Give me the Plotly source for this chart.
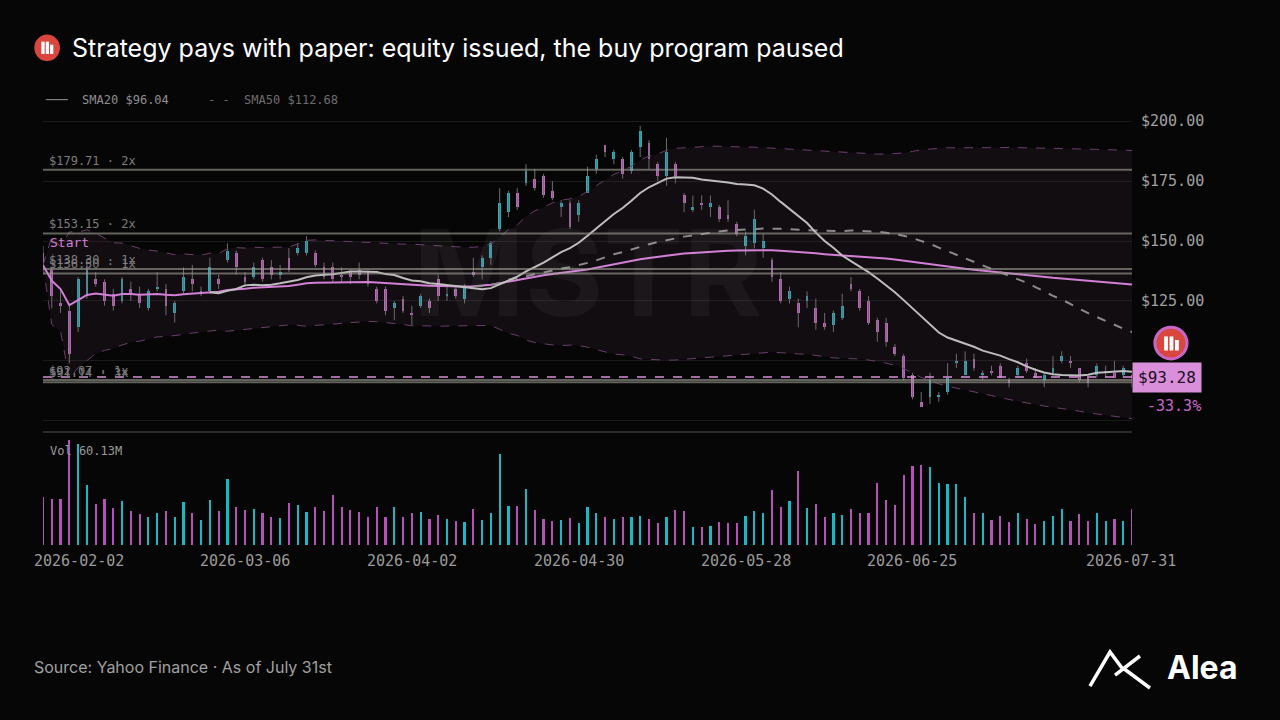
import plotly.graph_objects as go
import numpy as np
import pandas as pd


class PricePlot:
    """Manages the candlestick chart with levels, averages and volume."""

    def __init__(self, ohlc, volume, dates):
        """
        Initialize the PricePlot class.

        Args:
            ohlc: list of (open, high, low, close) rows, one per trading day.
            volume: traded volume per day, in millions.
            dates: trading dates as strings.
        """
        self.df = pd.DataFrame(ohlc, columns=["open", "high", "low", "close"])
        self.df["volume"] = volume
        self.df["date"] = dates
        self.fig = go.Figure()

    def build(self, levels, last_price, change, title, source):
        """Build the full figure."""
        df = self.df
        idx = np.arange(len(df))
        up = df["close"] >= df["open"]
        teal, pink, grey = "#19b8c6", "#c866c8", "#6e6e6e"
        mono = "DejaVu Sans Mono"

        # Averages and bands
        sma20 = df["close"].rolling(20).mean()
        sma50 = df["close"].rolling(50).mean()
        mean = df["close"].expanding().mean()
        std = df["close"].expanding().std().fillna(0)
        upper, lower = mean + 2 * std, mean - 2 * std

        self.fig.add_trace(go.Scatter(x=idx, y=upper, mode='lines', line=dict(color="#6a3f6c", width=1, dash='dash'),
                                      showlegend=False, hoverinfo='skip'))
        self.fig.add_trace(go.Scatter(x=idx, y=lower, mode='lines', line=dict(color="#6a3f6c", width=1, dash='dash'),
                                      fill='tonexty', fillcolor="rgba(120,80,120,0.10)", showlegend=False, hoverinfo='skip'))

        # Wicks (grey) and bodies (coloured)
        self.fig.add_trace(go.Ohlc(x=idx, open=df["open"], high=df["high"], low=df["low"], close=df["close"],
                                   increasing=dict(line=dict(color=grey, width=1)),
                                   decreasing=dict(line=dict(color=grey, width=1)),
                                   tickwidth=0, showlegend=False))
        body_base = np.minimum(df["open"], df["close"])
        body_h = np.maximum(np.abs(df["close"] - df["open"]), 0.6)
        self.fig.add_trace(go.Bar(x=idx, y=body_h, base=body_base, width=0.32,
                                  marker=dict(color=np.where(up, teal, pink), line=dict(width=0)), showlegend=False))

        self.fig.add_trace(go.Scatter(x=idx, y=mean, mode='lines', line=dict(color="#d27fd6", width=2), showlegend=False))
        self.fig.add_trace(go.Scatter(x=idx, y=sma50, mode='lines', line=dict(color="#8a8a8a", width=2, dash='dash'), showlegend=False))
        self.fig.add_trace(go.Scatter(x=idx, y=sma20, mode='lines', line=dict(color="#bdbdbd", width=2), showlegend=False))

        # Volume
        self.fig.add_trace(go.Bar(x=idx, y=df["volume"], width=0.25, yaxis='y2',
                                  marker=dict(color=np.where(up, teal, "#b552b8"), line=dict(width=0)), showlegend=False))

        annotations, shapes = [], []
        for price, mult in levels:
            shapes.append(dict(type='line', xref='x', yref='y', x0=0, x1=len(df) - 1, y0=price, y1=price,
                               line=dict(color="rgba(160,160,150,0.6)", width=2)))
            annotations.append(dict(x=0.004, xref='paper', y=price, yref='y', text=f"${price:.2f} · {mult}x",
                                    showarrow=False, xanchor='left', yanchor='bottom',
                                    font=dict(family=mono, size=12, color="#7d7d7d")))
        shapes.append(dict(type='line', xref='x', yref='y', x0=0, x1=len(df) - 1, y0=last_price, y1=last_price,
                           line=dict(color="#d98fd9", width=1.5, dash='dash')))
        shapes.append(dict(type='line', xref='paper', yref='paper', x0=0, x1=1, y0=0.257, y1=0.257,
                           line=dict(color="#2a2a2a", width=2)))

        # Badge and title icon
        shapes.append(dict(type='circle', xref='paper', yref='paper', x0=1.021, x1=1.0505, y0=0.423, y1=0.495,
                           fillcolor="#d8463d", line=dict(color="#c866c8", width=3)))
        shapes.append(dict(type='circle', xref='paper', yref='paper', x0=-0.008, x1=0.0156, y0=1.10, y1=1.16,
                           fillcolor="#d8463d", line=dict(width=0)))
        for x0, y0, w, h in [(1.0295, 0.442, 0.0035, 0.032), (1.0345, 0.442, 0.0035, 0.032), (1.0395, 0.442, 0.0035, 0.024),
                             (-0.0015, 1.116, 0.003, 0.028), (0.0025, 1.116, 0.003, 0.028), (0.0065, 1.116, 0.003, 0.021)]:
            shapes.append(dict(type='rect', xref='paper', yref='paper', x0=x0, x1=x0 + w, y0=y0, y1=y0 + h,
                               fillcolor="white", line=dict(width=0)))

        # Alea mark
        shapes.append(dict(type='path', xref='paper', yref='paper',
                           path="M 0.9614,-0.3205 L 0.9798,-0.2432 L 0.9908,-0.2795 M 0.9844,-0.2955 L 1.0073,-0.2523 "
                                "M 0.9917,-0.2795 L 1.0165,-0.325",
                           line=dict(color="white", width=3.5)))

        ticks = [0, 23, 42, 61, 80, 99, len(df) - 1]
        for k in ticks:
            anchor = 'left' if k == 0 else ('right' if k == len(df) - 1 else 'center')
            xpos = {'left': -0.0101, 'right': 1.042, 'center': k / (len(df) - 1)}[anchor]
            annotations.append(dict(x=xpos, xref='paper', y=-0.036, yref='paper', text=df["date"][k], showarrow=False,
                                    xanchor=anchor, yanchor='middle', font=dict(family=mono, size=15, color="#9a9a9a")))

        annotations += [
            dict(x=0.0248, xref='paper', y=1.13, yref='paper', text=title, showarrow=False, xanchor='left',
                 yanchor='middle', font=dict(family="Inter", size=25, color="white")),
            dict(x=0.0, xref='paper', y=1.011, yref='paper', text="───  SMA20 $96.04", showarrow=False, xanchor='left',
                 yanchor='middle', font=dict(family=mono, size=12, color="#8f8f8f")),
            dict(x=0.15, xref='paper', y=1.011, yref='paper', text="- -  SMA50 $112.68", showarrow=False, xanchor='left',
                 yanchor='middle', font=dict(family=mono, size=12, color="#6d6d6d")),
            dict(x=0.005, xref='paper', y=149.5, yref='y', text="Start", showarrow=False, xanchor='left',
                 font=dict(family=mono, size=13, color="#d27fd6")),
            dict(x=0.5, xref='paper', y=137, yref='y', text="<b>MSTR</b>", showarrow=False,
                 font=dict(family="Inter", size=120, color="rgba(255,255,255,0.045)")),
            dict(x=1.0, xref='paper', y=last_price, yref='y', text=f"${last_price:.2f}", showarrow=False, xanchor='left',
                 bgcolor="#d98fd9", borderpad=5, font=dict(family=mono, size=16, color="#1a0f1a")),
            dict(x=1.012, xref='paper', y=last_price - 12, yref='y', text=change, showarrow=False, xanchor='left',
                 font=dict(family=mono, size=15, color="#c866c8")),
            dict(x=0.005, xref='paper', y=0.235, yref='paper', text="Vol 60.13M", showarrow=False, xanchor='left',
                 yanchor='top', font=dict(family=mono, size=12, color="#9a9a9a")),
            dict(x=-0.0101, xref='paper', y=-0.277, yref='paper', text=source, showarrow=False, xanchor='left',
                 yanchor='middle', font=dict(family="Inter", size=16, color="#a0a0a0")),
            dict(x=1.0303, xref='paper', y=-0.2795, yref='paper', text="<b>Alea</b>", showarrow=False, xanchor='left',
                 yanchor='middle', font=dict(family="Inter", size=32, color="white")),
        ]

        self.fig.update_layout(
            width=1280, height=720, margin=dict(l=43, r=148, t=105, b=175),
            paper_bgcolor="#070606", plot_bgcolor="#070606", barmode='overlay', bargap=0,
            xaxis=dict(range=[0, len(df) - 1], showgrid=False, zeroline=False, showticklabels=False,
                       rangeslider=dict(visible=False), fixedrange=True),
            yaxis=dict(domain=[0.257, 1], range=[70.4, 206.7], side='right', tickvals=[75, 100, 125, 150, 175, 200],
                       ticktext=["", "", "$125.00", "$150.00", "$175.00", "$200.00"], gridcolor="#1a1a1a", zeroline=False,
                       tickfont=dict(family=mono, size=15, color="#a0a0a0"), ticklabelstandoff=8),
            yaxis2=dict(domain=[0, 0.239], range=[0, df["volume"].max()], visible=False),
            shapes=shapes, annotations=annotations
        )
        self.fig.write_html("out.html", config={"displayModeBar": False},
                            post_script="document.body.style.margin='0';document.body.style.background='#070606';")


if __name__ == "__main__":
    holidays = ["2026-02-16", "2026-04-03", "2026-05-25", "2026-06-19", "2026-07-03"]
    days = [d.strftime("%Y-%m-%d") for d in pd.bdate_range("2026-02-02", "2026-07-31") if d.strftime("%Y-%m-%d") not in holidays]

    ohlc = [
        (145, 148, 136, 139.9), (138, 139, 122, 127), (124, 129, 120, 123), (121, 123, 99, 103), (114, 135, 112, 134),
        (127, 141, 126, 138), (134, 137, 131, 132), (133, 134, 123, 125), (128, 130, 121, 123), (125, 135, 124, 134),
        (130, 133, 125, 128), (128, 131, 122, 124), (122, 130, 121, 129), (130, 137, 129, 131), (130, 132, 119, 123),
        (120, 125, 116, 124), (129, 139, 128, 135), (134, 140, 129, 132), (128, 131, 127, 129), (129, 143, 128, 139),
        (134, 136, 130, 132), (142, 149, 141, 146), (145, 146, 136, 139), (135, 137, 131, 133), (135, 141, 134, 139),
        (142, 143, 133, 134), (139, 142, 134, 136), (136, 140, 134, 137), (143, 147, 137, 138), (145, 149, 144, 147),
        (145, 152, 144, 150), (145, 146, 139, 140), (139, 141, 134, 135), (139, 141, 133, 134), (136, 139, 133, 135),
        (137, 138, 132, 135), (138, 141, 134, 136), (137, 138, 131, 132), (130, 131, 124, 125), (130, 131, 119, 121),
        (122, 125, 117, 124), (126, 127, 120, 121), (120, 123, 115, 119), (123, 128, 122, 127), (125, 126, 120, 122),
        (134, 136, 125, 127), (127, 131, 125, 128), (130, 131, 126, 127), (126, 132, 124, 131), (137, 143, 135, 136),
        (139, 144, 134, 143), (143, 150, 140, 149), (155, 172, 154, 166), (162, 171, 160, 170), (170, 172, 163, 164),
        (174, 182, 173, 179), (176, 180, 171, 172), (177, 178, 168, 169), (171, 175, 167, 168), (164, 167, 160, 166),
        (166, 167, 155, 156), (161, 167, 158, 166), (170, 181, 170, 177), (180, 186, 178, 184), (190, 190, 185, 187),
        (184, 188, 182, 187), (184, 185, 176, 178), (179, 188, 178, 187), (189, 198, 185, 196), (191, 192, 180, 184),
        (182, 183, 175, 177), (177, 193, 173, 187), (182, 183, 174, 177), (169, 170, 162, 166), (163, 169, 162, 164),
        (166, 169, 163, 165), (164, 169, 160, 166), (164, 165, 158, 159), (161, 167, 158, 159), (157, 158, 152, 153),
        (148, 154, 144, 152), (149, 163, 147, 159), (147, 153, 143, 150), (142, 143, 133, 135), (134, 137, 124, 125),
        (126, 131, 124, 129), (124, 126, 114, 120), (125, 129, 122, 127), (122, 126, 113, 116), (116, 120, 113, 114),
        (115, 121, 112, 120), (118, 128, 117, 123), (132, 135, 129, 130), (129, 130, 121, 122), (125, 127, 115, 116),
        (117, 118, 108, 112), (116, 118, 106, 108), (106, 107, 102, 103), (102, 103, 92, 93), (94, 95, 84, 85),
        (83, 87, 81, 81), (85, 95, 82, 92), (85, 87, 83, 86), (87, 99, 86, 93), (99, 103, 97, 100),
        (94, 104, 94, 100), (101, 103, 96, 97), (94, 96, 92, 95), (96, 98, 94, 95), (98, 99, 93, 93),
        (92, 93, 89, 91), (94, 98, 93, 97), (99, 101, 95, 96), (95, 97, 93, 93), (92, 95, 89, 94),
        (95, 102, 94, 97), (100, 104, 99, 102), (100, 102, 97, 99), (97, 97, 91, 92), (93, 93, 89, 91),
        (94, 99, 93, 98), (95, 98, 93, 96), (95, 100, 93, 93), (94, 98, 93, 97), (94, 94.5, 89, 93.28),
    ]

    volume = [  # millions
        80.7, 76.8, 76.8, 175.4, 168.7, 100.2, 68.5, 76.8, 62.4, 73.5,
        56.8, 51.8, 46.2, 53.5, 56.8, 46.2, 71.8, 53.5, 41.8, 75.2,
        57.4, 109.7, 62.9, 58.5, 60.7, 53.5, 47.3, 45.1, 70.2, 67.4,
        55.1, 62.9, 57.4, 84.1, 63.5, 58.5, 55.1, 46.2, 64.0, 46.8,
        63.5, 46.8, 53.5, 55.1, 43.4, 50.1, 44.0, 40.1, 38.4, 60.1,
        41.8, 53.5, 152.0, 65.1, 65.1, 93.5, 58.5, 43.4, 40.1, 41.8,
        45.1, 36.7, 63.5, 54.0, 46.2, 43.4, 46.8, 46.8, 48.4, 44.0,
        36.7, 46.8, 58.5, 57.4, 30.1, 30.1, 31.7, 38.4, 36.7, 36.7,
        48.4, 57.4, 53.5, 91.9, 63.5, 73.5, 123.6, 61.8, 68.5, 46.8,
        53.5, 50.1, 60.1, 53.5, 53.5, 103.6, 75.2, 66.8, 116.9, 132.0,
        133.6, 130.8, 103.6, 101.9, 101.9, 80.2, 53.5, 53.5, 41.8, 48.4,
        38.4, 53.5, 43.4, 35.1, 40.1, 48.4, 60.1, 40.1, 51.8, 40.1,
        53.5, 40.1, 43.4, 40.1, 60.13,
    ]

    levels = [(179.71, 2), (153.15, 2), (138.30, 1), (136.50, 1), (92.07, 1), (91.14, 3)]

    plot = PricePlot(ohlc, volume, days)
    plot.build(levels, 93.28, "-33.3%",
               "Strategy pays with paper: equity issued, the buy program paused",
               "Source: Yahoo Finance · As of July 31st")
